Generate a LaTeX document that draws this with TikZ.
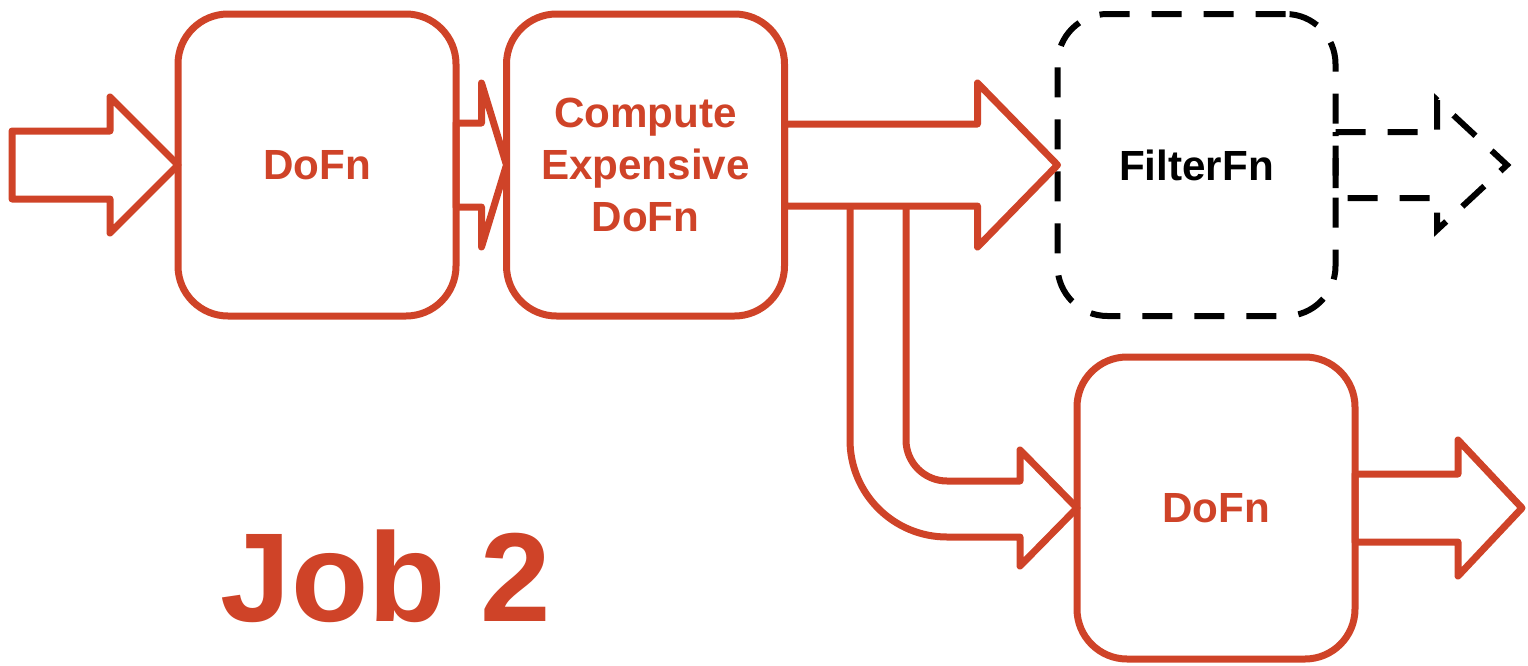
\documentclass[tikz,border=0pt]{standalone}
\usepackage{fontspec}
\setmainfont{Liberation Sans}
\usetikzlibrary{calc}
\definecolor{jobred}{HTML}{CF4328}

\tikzset{
  fnbox/.style={draw=jobred, line width=0.7mm, rounded corners=5mm,
    minimum width=27.8mm, minimum height=30.2mm, outer sep=0pt,
    text=jobred, align=center, font=\bfseries\fontsize{12}{14.8}\selectfont},
  ghostbox/.style={fnbox, draw=black, text=black, line width=0.6mm,
    dash pattern=on 3mm off 2.2mm},
  blockarrow/.style={draw=jobred, line width=0.7mm, line join=round},
  ghostarrow/.style={draw=black, line width=0.6mm, dash pattern=on 3mm off 2.2mm},
  jobtext/.style={text=jobred, font=\bfseries\fontsize{36}{40}\selectfont, anchor=base},
}

% block arrow: [style]{start}{tip}{shaft half}{head half}{head length}
\newcommand{\blockarr}[6][blockarrow]{%
  \draw[#1] ($(#2)+(0,-#4)$) -- ($(#3)+(-#6,-#4)$) -- ($(#3)+(-#6,-#5)$)
    -- (#3) -- ($(#3)+(-#6,#5)$) -- ($(#3)+(-#6,#4)$) -- ($(#2)+(0,#4)$) -- cycle;}

\begin{document}
\begin{tikzpicture}[x=0.1mm,y=-0.1mm]
  \useasboundingbox (0,0) rectangle (1528,666);

  % ============================================================
  %                       BOXES
  % ============================================================
  \node[fnbox] (dofn) at (317,165) {DoFn};
  \node[fnbox] (expensive) at (645.5,165) {Compute\\Expensive\\DoFn};
  \node[ghostbox] (filter) at (1196.5,165) {FilterFn};
  \node[fnbox] (dofnb) at (1216,508) {DoFn};

  \coordinate (in) at (12,165);
  \coordinate (filterout) at (1507,165);
  \coordinate (out) at (1522,508);

  % ============================================================
  %                       ARROWS
  % ============================================================
  \blockarr{in}{dofn.west}{34}{68}{68}
  \blockarr{dofn.east}{expensive.west}{42}{82}{25}
  \blockarr{expensive.east}{filter.west}{41}{82}{80}
  \blockarr[ghostarrow]{filter.east}{filterout}{33}{65}{70}
  \blockarr{dofnb.east}{out}{34}{68}{64}

  % branch down to the second DoFn
  \draw[blockarrow] (850,206) -- (850,440) arc[start angle=180, end angle=90, radius=97]
    -- (1020,537) -- (1020,566) -- (dofnb.west) -- (1020,450) -- (1020,481)
    -- (947,481) arc[start angle=90, end angle=180, radius=41] -- (906,206);

  \node[jobtext] (job) at (386,621) {Job 2};

\end{tikzpicture}
\end{document}
